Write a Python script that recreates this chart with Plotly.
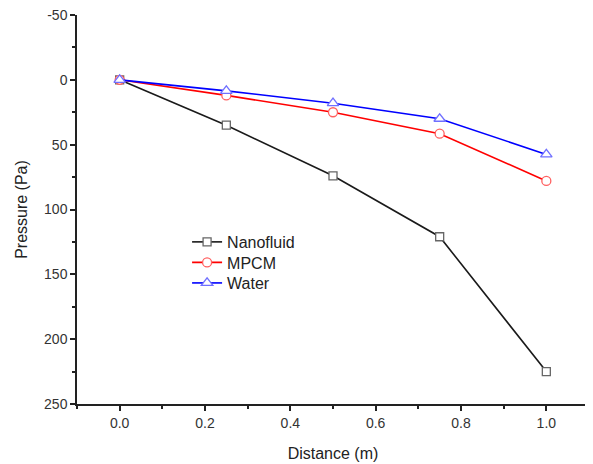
import plotly.graph_objects as go

distance = [0.0, 0.25, 0.5, 0.75, 1.0]
nanofluid = [0, 35, 74, 121, 225]
mpcm = [0, 12, 25, 41.5, 78]
water = [0, 8.5, 18, 30, 57.5]
y_ticks = [-50, 0, 50, 100, 150, 200, 250]
y_labels = ["-50", "0", "50", "100", "150", "200", "250"]
x_ticks = [0, 0.2, 0.4, 0.6, 0.8, 1.0]
x_labels = ["0.0", "0.2", "0.4", "0.6", "0.8", "1.0"]

fig = go.Figure()
series = [
    ("Nanofluid", nanofluid, "#1a1a1a", "#666666", "square", 8, "legend"),
    ("MPCM", mpcm, "#ff0000", "#ff6060", "circle", 9, "legend2"),
    ("Water", water, "#0000ff", "#7070ff", "triangle-up", 10, "legend3"),
]
for name, vals, lc, mc, sym, sz, lg in series:
    fig.add_trace(go.Scatter(
        x=distance, y=vals, name=name, mode="lines+markers", legend=lg,
        line=dict(color=lc, width=1.6),
        marker=dict(symbol=sym, size=sz, color="white", line=dict(color=mc, width=1.3)),
    ))

axis_common = dict(
    showgrid=False, zeroline=False, showline=True, linecolor="#222", linewidth=1.5,
    ticks="outside", ticklen=5, tickwidth=1.5, tickcolor="#222",
    tickfont=dict(family="Arial", size=14, color="#333"),
    minor=dict(ticks="outside", ticklen=3, tickwidth=1.5, tickcolor="#222"),
    automargin=False, ticklabeloverflow="allow",
)

def leg(yc):
    return dict(x=0.215, y=yc, xanchor="left", yanchor="middle",
                font=dict(family="Arial", size=16, color="#222"),
                bgcolor="rgba(0,0,0,0)", itemwidth=30)

fig.update_layout(
    width=585, height=456,
    margin=dict(l=69, r=4, t=7, b=60),
    paper_bgcolor="white", plot_bgcolor="white",
    font=dict(family="Arial", color="#222"),
    showlegend=True,
    legend=leg(0.4165), legend2=leg(0.3638), legend3=leg(0.311),
    xaxis=dict(range=[-0.1, 1.1], tickvals=x_ticks, ticktext=x_labels,
               minor_dtick=0.1, minor_tick0=0.1,
               title=dict(text="Distance (m)", font=dict(family="Arial", size=16, color="#222"), standoff=18),
               **axis_common),
    yaxis=dict(range=[250, -50], tickvals=y_ticks, ticktext=y_labels,
               minor_dtick=25, minor_tick0=-25,
               title=dict(text="Pressure (Pa)", font=dict(family="Arial", size=16, color="#222"), standoff=12),
               **axis_common),
)

fig.write_html("out.html")
